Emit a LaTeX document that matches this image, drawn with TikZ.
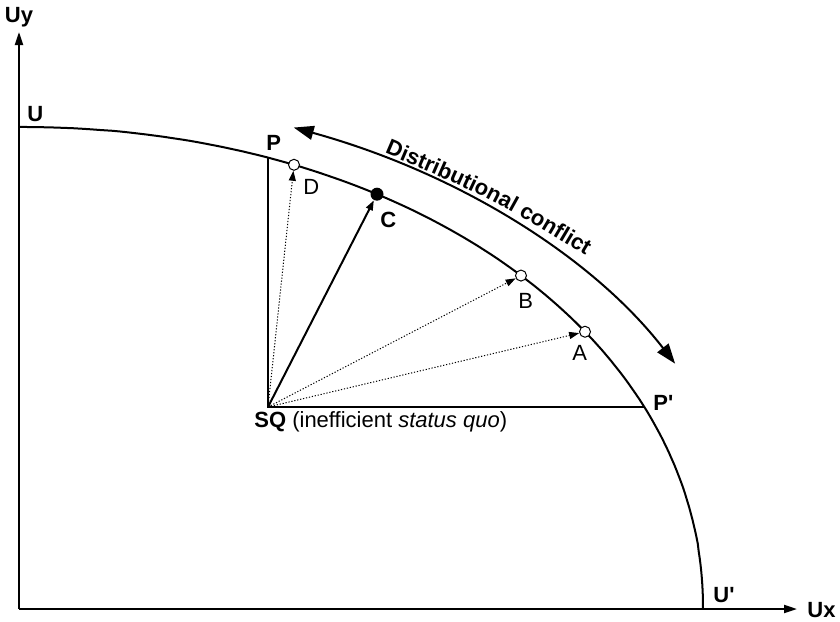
\documentclass[tikz,border=0pt]{standalone}
\usepackage{fontspec}
\newfontfamily\helv{Liberation Sans}
\usetikzlibrary{arrows.meta,decorations.text}

\begin{document}
\begin{tikzpicture}[x=0.5pt,y=-0.5pt,
  lab/.style={inner sep=0pt,font=\helv\fontsize{11}{13}\selectfont},
  blab/.style={inner sep=0pt,font=\helv\fontsize{11}{13}\selectfont\bfseries},
  opt/.style={circle,draw,fill=white,line width=0.5pt,minimum size=5.5pt,inner sep=0pt},
  fpt/.style={circle,fill,minimum size=6.5pt,inner sep=0pt},
  axis/.style={line width=1pt,-{Triangle[length=6.5pt,width=4pt]}},
  move/.style={line width=1pt,-{Triangle[length=5pt,width=3.5pt]}},
  dotmove/.style={line width=0.5pt,dash pattern=on 0.6pt off 0.9pt,-{Triangle[length=5pt,width=3.5pt]}}]
\useasboundingbox (0,0) rectangle (840,621);
\coordinate (O) at (19,609);
\coordinate (ytip) at (19,32);
\coordinate (xtip) at (797,609);
\draw[axis] (O)--(ytip);
\draw[axis] (O)--(xtip);
\node[blab,anchor=base] (uy) at (19,23) {Uy};
\node[blab,anchor=base west] (ux) at (807,617) {Ux};
\coordinate (U) at (19,127);
\coordinate (Ur) at (703,609);
\draw[line width=1pt] (U)--plot[domain=89.5:0.5,samples=120] ({19+684*cos(\x)^0.9756},{609-482*sin(\x)^0.9756})--(Ur);
\coordinate (SQ) at (268,407);
\coordinate (P) at (268,157.7);
\coordinate (Pr) at (644,407);
\draw[line width=0.8pt] (P)--(SQ)--(Pr);
\foreach \name/\px in {D/294,C/377,B/521,A/585}{
  \coordinate (\name) at (\px,{609-482*(1-((\px-19)/684)^2.05)^0.4878});}
\node[opt] (D) at (D) {};
\node[fpt] (C) at (C) {};
\node[opt] (B) at (B) {};
\node[opt] (A) at (A) {};
\draw[move] (SQ)--(C);
\foreach \pt in {D,B,A}{\draw[dotmove] (SQ)--(\pt);}
\node[blab,anchor=base west] (lU) at (27,121) {U};
\node[blab,anchor=base west] (lUr) at (713,602) {U'};
\node[blab,anchor=base west] (lP) at (266,150) {P};
\node[blab,anchor=base west] (lPr) at (653,410) {P'};
\node[blab,anchor=base west] (lC) at (380,227) {C};
\node[lab,anchor=base west] (lD) at (303,194) {D};
\node[lab,anchor=base west] (lB) at (518,308) {B};
\node[lab,anchor=base west] (lA) at (572,360) {A};
\node[lab,anchor=base west] (lSQ) at (254,427) {\textbf{SQ} (inefficient \textit{status quo})};
\coordinate (dc) at ({19+745*cos(68.36)},{609-518*sin(68.36)});
\draw[line width=1pt,{Triangle[length=10pt,width=7pt]}-{Triangle[length=10pt,width=7pt]}] (dc) arc[start angle=-68.36,end angle=-28.27,x radius=745,y radius=518];
\path[decorate,decoration={text along path,text align=center,
  text={|\helv\fontsize{11}{13}\selectfont\bfseries|Distributional conflict}}]
  (380,151) .. controls (488,197) .. (590,258);
\end{tikzpicture}
\end{document}
